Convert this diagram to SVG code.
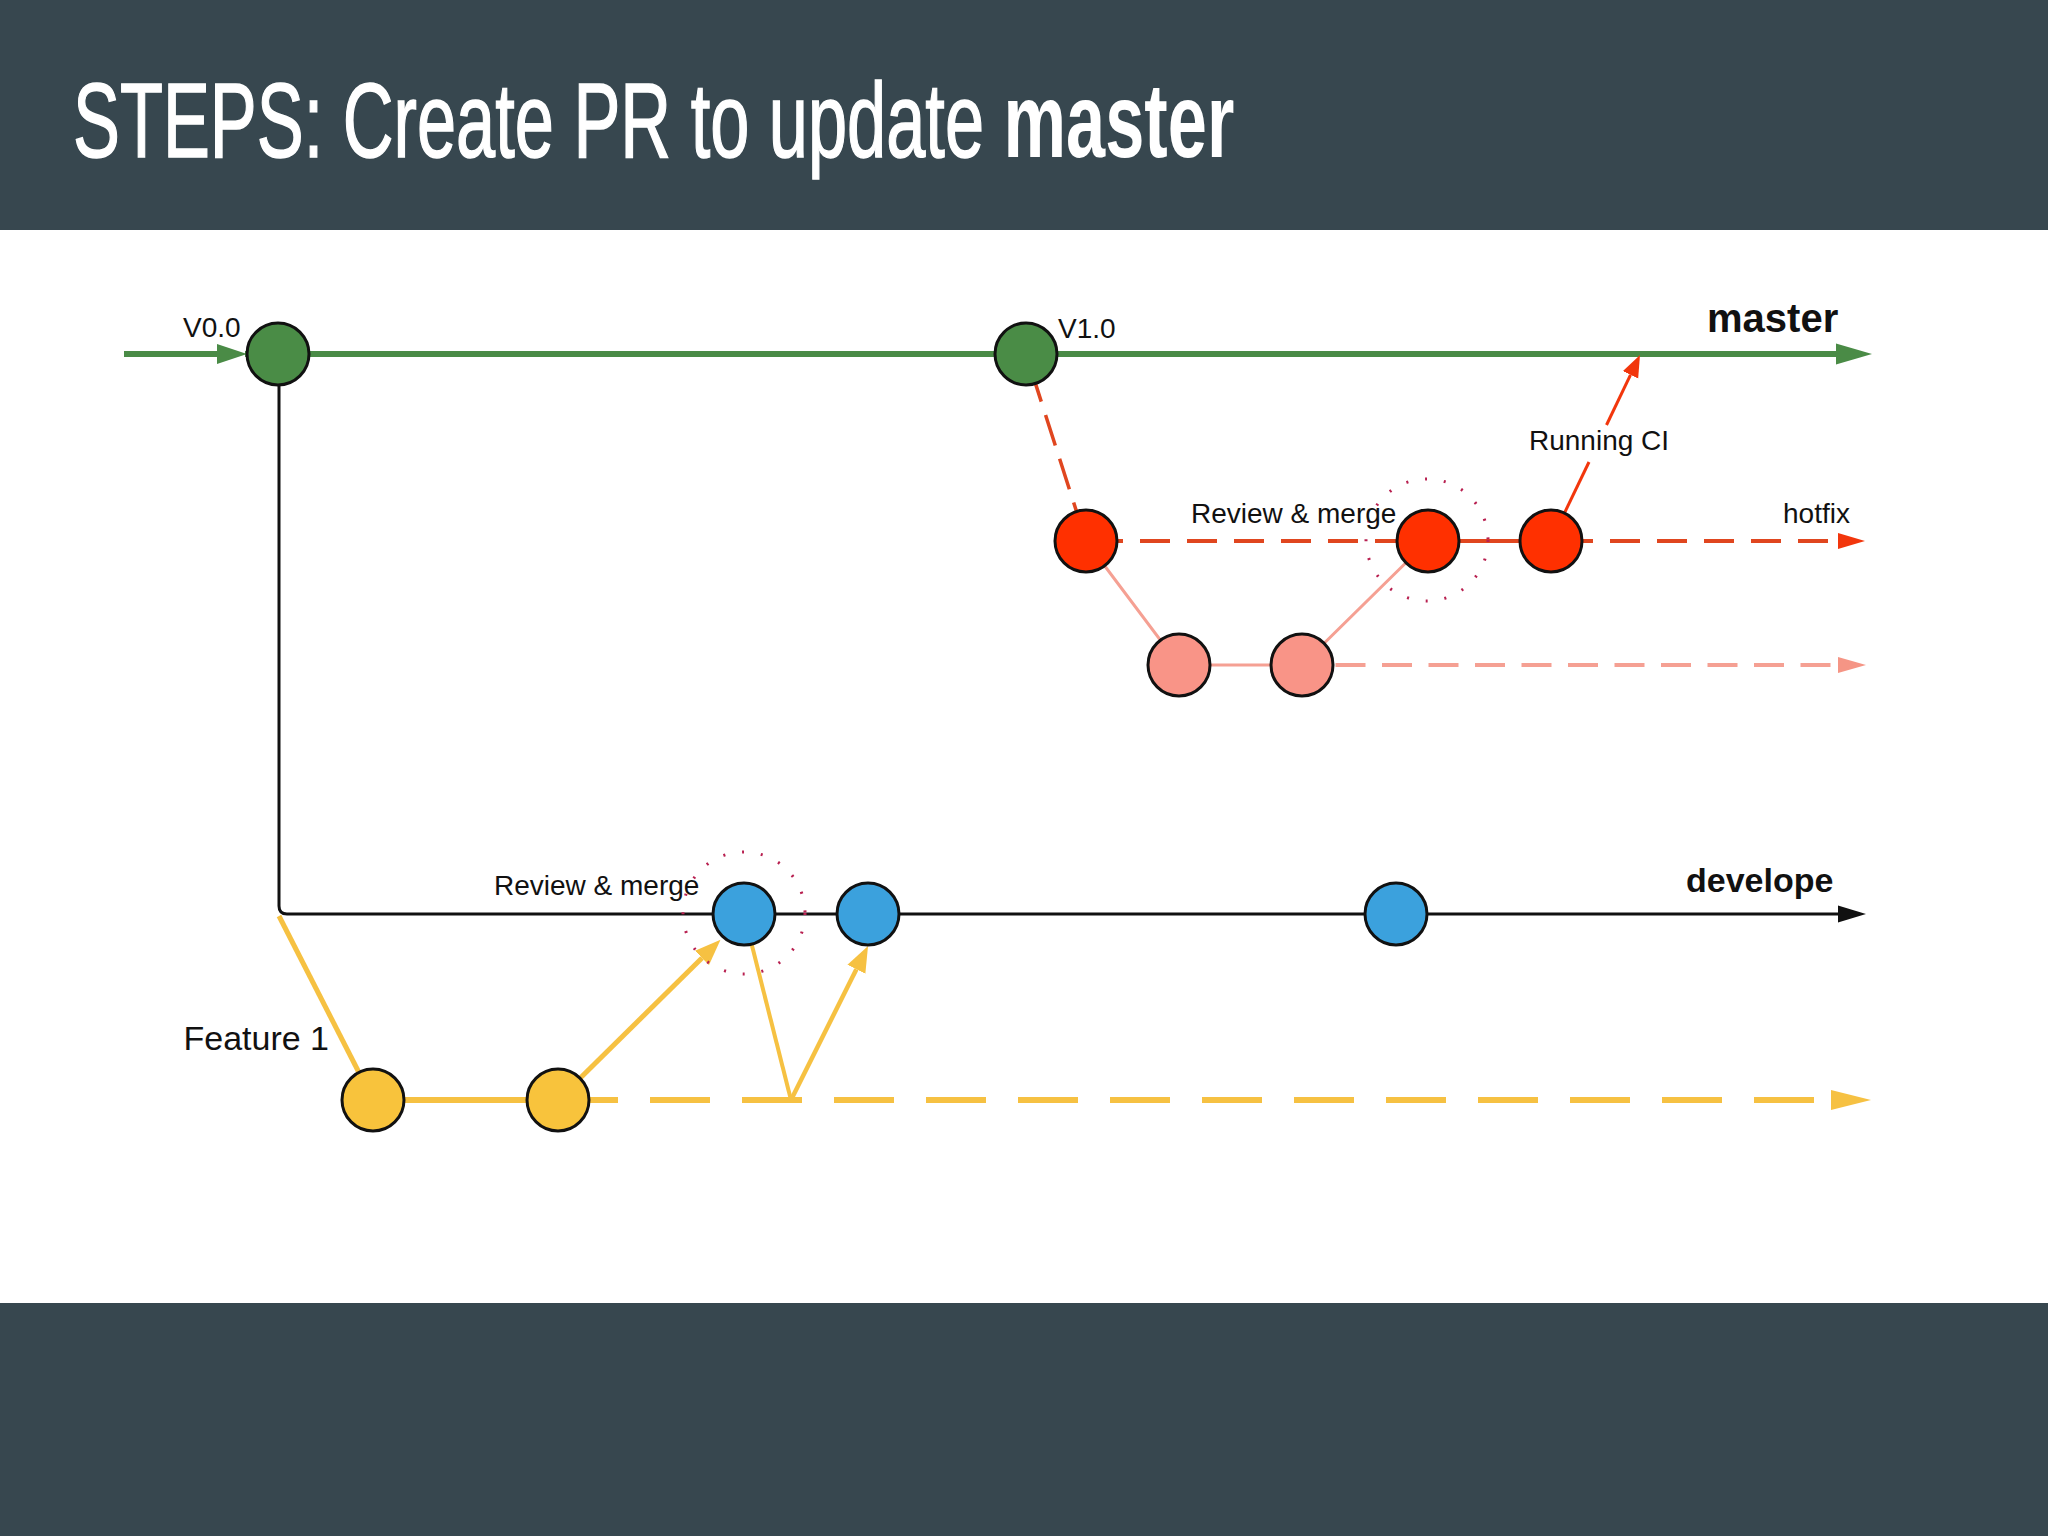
<svg xmlns="http://www.w3.org/2000/svg" width="2048" height="1536" viewBox="0 0 2048 1536">
  <style>
    .lbl { font-family: "Liberation Sans", Arial, sans-serif; font-size: 28px; fill: #111; }
    .branch { font-family: "Liberation Sans", Arial, sans-serif; font-weight: bold; fill: #111; }
    .title { font-family: "Liberation Sans", Arial, sans-serif; font-size: 105px; fill: #ffffff; }
    .node { stroke: #111; stroke-width: 3; }
    .green { fill: #4a8c46; }
    .red { fill: #ff3000; }
    .pink { fill: #f99487; }
    .blue { fill: #3ba1dd; }
    .yellow { fill: #f8c33c; }
    .ring { fill: none; stroke: #b82050; stroke-width: 3; stroke-dasharray: 2 17; }
  </style>
  <defs>
    <marker id="arrGreenIn" markerUnits="userSpaceOnUse" markerWidth="30" markerHeight="22" refX="0" refY="11" orient="auto">
      <path d="M0,1 L30,11 L0,21 z" fill="#4a8b46"/>
    </marker>
    <marker id="arrGreen" markerUnits="userSpaceOnUse" markerWidth="36" markerHeight="22" refX="0" refY="11" orient="auto">
      <path d="M0,0.5 L36,11 L0,21.5 z" fill="#4a8b46"/>
    </marker>
    <marker id="arrBlack" markerUnits="userSpaceOnUse" markerWidth="28" markerHeight="18" refX="0" refY="9" orient="auto">
      <path d="M0,0.5 L28,9 L0,17.5 z" fill="#111"/>
    </marker>
    <marker id="arrRed" markerUnits="userSpaceOnUse" markerWidth="27" markerHeight="18" refX="0" refY="9" orient="auto">
      <path d="M0,1 L27,9 L0,17 z" fill="#f2360c"/>
    </marker>
    <marker id="arrRedS" markerUnits="userSpaceOnUse" markerWidth="22" markerHeight="18" refX="0" refY="9" orient="auto">
      <path d="M0,0.5 L22,9 L0,17.5 z" fill="#f2360c"/>
    </marker>
    <marker id="arrPink" markerUnits="userSpaceOnUse" markerWidth="28" markerHeight="18" refX="0" refY="9" orient="auto">
      <path d="M0,1 L28,9 L0,17 z" fill="#f59585"/>
    </marker>
    <marker id="arrYellow" markerUnits="userSpaceOnUse" markerWidth="40" markerHeight="22" refX="0" refY="11" orient="auto">
      <path d="M0,1 L40,11 L0,21 z" fill="#f6c142"/>
    </marker>
    <marker id="arrYellowS" markerUnits="userSpaceOnUse" markerWidth="26" markerHeight="22" refX="0" refY="11" orient="auto">
      <path d="M0,1 L26,11 L0,21 z" fill="#f6c142"/>
    </marker>
  </defs>

  <!-- background & bands -->
  <rect x="0" y="0" width="2048" height="1536" fill="#ffffff"/>
  <rect x="0" y="0" width="2048" height="230" fill="#37474f"/>
  <rect x="0" y="1303" width="2048" height="233" fill="#37474f"/>

  <g id="title" transform="translate(73,157) scale(0.67,1)">
    <text class="title" x="0" y="0"><tspan stroke="#ffffff" stroke-width="1.5">STEPS: Create PR to update </tspan><tspan font-weight="bold">master</tspan></text>
  </g>

  <g id="connectors" fill="none">
    <!-- master -->
    <path d="M124,354 H217" stroke="#4a8b46" stroke-width="6" marker-end="url(#arrGreenIn)"/>
    <path d="M245,354 H1836" stroke="#4a8b46" stroke-width="6" marker-end="url(#arrGreen)"/>
    <!-- develope -->
    <path d="M279,386 V906 Q279,914 287,914 H1838" stroke="#111" stroke-width="3" marker-end="url(#arrBlack)"/>
    <!-- hotfix -->
    <path d="M1026,354 L1086,541" stroke="#e0461f" stroke-width="3.5" stroke-dasharray="32 14" stroke-dashoffset="28"/>
    <path d="M1093,541 H1396" stroke="#e0461f" stroke-width="4" stroke-dasharray="30 17"/>
    <path d="M1428,541 H1551" stroke="#e0461f" stroke-width="4"/>
    <path d="M1563,541 H1838" stroke="#e0461f" stroke-width="4" stroke-dasharray="30 17" marker-end="url(#arrRed)"/>
    <!-- running CI -->
    <path d="M1551,541 L1589,462" stroke="#f2360c" stroke-width="3"/>
    <path d="M1606.5,425 L1630.5,374.8" stroke="#f2360c" stroke-width="3" marker-end="url(#arrRedS)"/>
    <!-- pink sub-branch -->
    <path d="M1086,541 L1179,665 H1302 L1428,541" stroke="#f5a093" stroke-width="3"/>
    <path d="M1289,665 H1838" stroke="#f5a093" stroke-width="4" stroke-dasharray="30 16.5" marker-end="url(#arrPink)"/>
    <!-- feature 1 -->
    <path d="M279,916 L373,1100" stroke="#f6c142" stroke-width="5"/>
    <path d="M373,1100 H558" stroke="#f6c142" stroke-width="6"/>
    <path d="M558,1100 H1831" stroke="#f6c142" stroke-width="6" stroke-dasharray="60 32" marker-end="url(#arrYellow)"/>
    <path d="M558,1100 L702,958" stroke="#f6c142" stroke-width="5" marker-end="url(#arrYellowS)"/>
    <path d="M744,914 L791,1100" stroke="#f6c142" stroke-width="4"/>
    <path d="M791,1100 L856.4,969.2" stroke="#f6c142" stroke-width="4.5" marker-end="url(#arrYellowS)"/>
  </g>

  <g id="nodes">
    <g id="v00"><circle class="node green" cx="278" cy="354" r="31"/></g>
    <g id="v10"><circle class="node green" cx="1026" cy="354" r="31"/></g>
    <g id="hotfix1"><circle class="node red" cx="1086" cy="541" r="31"/></g>
    <g id="hotfix2">
      <circle class="ring" cx="1427" cy="540" r="61"/>
      <circle class="node red" cx="1428" cy="541" r="31"/>
    </g>
    <g id="hotfix3"><circle class="node red" cx="1551" cy="541" r="31"/></g>
    <g id="pink1"><circle class="node pink" cx="1179" cy="665" r="31"/></g>
    <g id="pink2"><circle class="node pink" cx="1302" cy="665" r="31"/></g>
    <g id="dev1">
      <circle class="ring" cx="744" cy="913" r="61"/>
      <circle class="node blue" cx="744" cy="914" r="31"/>
    </g>
    <g id="dev2"><circle class="node blue" cx="868" cy="914" r="31"/></g>
    <g id="dev3"><circle class="node blue" cx="1396" cy="914" r="31"/></g>
    <g id="feat1"><circle class="node yellow" cx="373" cy="1100" r="31"/></g>
    <g id="feat2"><circle class="node yellow" cx="558" cy="1100" r="31"/></g>
  </g>

  <g id="labels">
    <text class="lbl" x="183" y="337">V0.0</text>
    <text class="lbl" x="1058" y="338">V1.0</text>
    <text class="branch" x="1707" y="332" font-size="40">master</text>
    <text class="lbl" x="1529" y="450">Running CI</text>
    <text class="lbl" x="1191" y="523">Review &amp; merge</text>
    <text class="lbl" x="1783" y="523">hotfix</text>
    <text class="lbl" x="494" y="895">Review &amp; merge</text>
    <text class="branch" x="1686" y="892" font-size="34">develope</text>
    <text class="lbl" x="329" y="1050" text-anchor="end" style="font-size:34px">Feature 1</text>
  </g>
</svg>
